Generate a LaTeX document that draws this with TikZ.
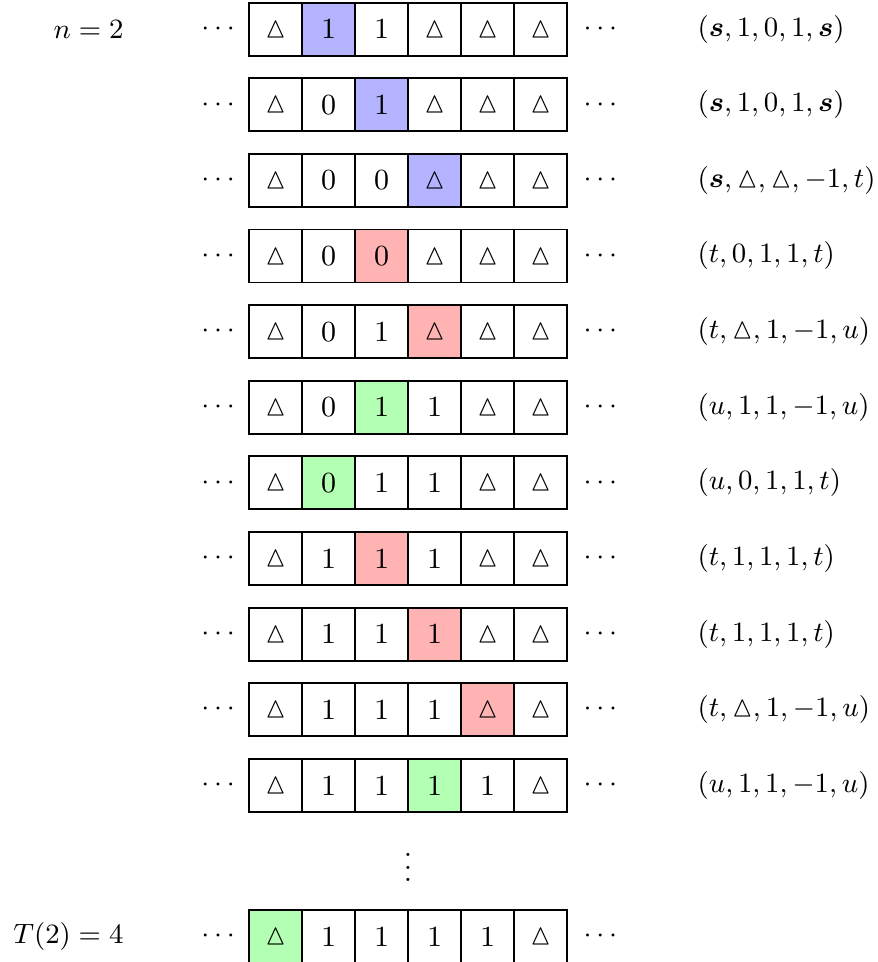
\documentclass[tikz,border=0pt]{standalone}
\usepackage{amsmath,amssymb}
\usepackage{xcolor}
\usepackage{tikz}
\usetikzlibrary{positioning}
\definecolor{HeadBlue}{HTML}{B3B3FF}
\definecolor{HeadRed}{HTML}{FFB3B3}
\definecolor{HeadGreen}{HTML}{B3FFB3}
\newcommand{\tri}{$\vartriangle$}
\tikzset{
  every node/.style={font=\fontsize{9.4pt}{11.2pt}\selectfont},
  cell/.style={draw=black,semithick,minimum size=6mm,inner sep=0pt,outer sep=0pt},
  lgap/.style={inner sep=0pt,node distance=1mm},
  rgap/.style={inner sep=0pt,node distance=1.8mm},
  state/.style={inner sep=0pt,node distance=14.7mm},
  tag/.style={inner sep=0pt,node distance=14.15mm}
}

\begin{document}
\begin{tikzpicture}[x=6mm,y=8.56mm]
  \useasboundingbox (-3.12cm,0.33cm) rectangle (6.81cm,-10.56cm);
  % one tape per row: row / head cell / head colour / cells / state
  \foreach \r/\h/\hc/\cells/\lab in {
    0/1/HeadBlue/{\tri,1,1,\tri,\tri,\tri}/{$(\boldsymbol{s},1,0,1,\boldsymbol{s})$},
    1/2/HeadBlue/{\tri,0,1,\tri,\tri,\tri}/{$(\boldsymbol{s},1,0,1,\boldsymbol{s})$},
    2/3/HeadBlue/{\tri,0,0,\tri,\tri,\tri}/{$(\boldsymbol{s},\vartriangle,\vartriangle,-1,t)$},
    3/2/HeadRed/{\tri,0,0,\tri,\tri,\tri}/{$(t,0,1,1,t)$},
    4/3/HeadRed/{\tri,0,1,\tri,\tri,\tri}/{$(t,\vartriangle,1,-1,u)$},
    5/2/HeadGreen/{\tri,0,1,1,\tri,\tri}/{$(u,1,1,-1,u)$},
    6/1/HeadGreen/{\tri,0,1,1,\tri,\tri}/{$(u,0,1,1,t)$},
    7/2/HeadRed/{\tri,1,1,1,\tri,\tri}/{$(t,1,1,1,t)$},
    8/3/HeadRed/{\tri,1,1,1,\tri,\tri}/{$(t,1,1,1,t)$},
    9/4/HeadRed/{\tri,1,1,1,\tri,\tri}/{$(t,\vartriangle,1,-1,u)$},
    10/3/HeadGreen/{\tri,1,1,1,1,\tri}/{$(u,1,1,-1,u)$},
    12/0/HeadGreen/{\tri,1,1,1,1,\tri}/{}}{
    \foreach \v [count=\i from 0] in \cells {
      \ifnum\i=\h \def\fc{\hc}\else\def\fc{white}\fi
      \node[cell,fill=\fc] (c\r-\i) at (\i,-\r) {\v};
    }
    \node[lgap,left=of c\r-0] (ld\r) {$\cdots$};
    \node[rgap,right=of c\r-5] (rd\r) {$\cdots$};
    \ifx\lab\empty\else\node[state,right=of c\r-5] (st\r) {\lab};\fi
  }
  \node[tag,left=of c0-0] (n) {$n=2$};
  \node[tag,left=of c12-0] (T) {$T(2)=4$};
  \node (vd) at (2.5,-11) [yshift=0.3mm] {$\vdots$};
\end{tikzpicture}
\end{document}
